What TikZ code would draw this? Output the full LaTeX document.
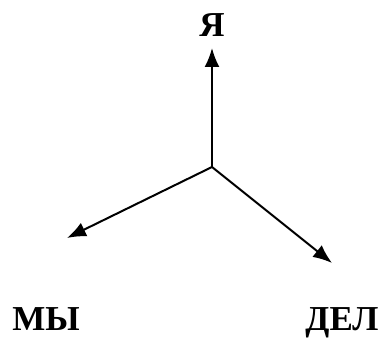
\documentclass[tikz,border=0pt]{standalone}
\usepackage{fontspec}
\setmainfont{Liberation Serif}
\usetikzlibrary{arrows.meta}
\tikzset{lbl/.style={inner sep=0pt, text depth=0pt, font=\fontsize{35}{35}\selectfont\bfseries},
  arr/.style={line width=2pt, -{Latex[length=19pt,width=15pt]}}}
\begin{document}
\begin{tikzpicture}[x=1pt,y=-1pt]
\useasboundingbox (0,0) rectangle (381,339);
\coordinate (c) at (212,167);
\coordinate (tup) at (212,48);
\coordinate (tleft) at (67,238);
\coordinate (tright) at (332,263);
\node[lbl, anchor=base] (ya) at (212,37){Я};
\node[lbl, anchor=base] (my) at (46,331){МЫ};
\node[lbl, anchor=base] (del) at (342,331){ДЕЛ};
\draw[arr](c) -- (tup);
\draw[arr](c) -- (tleft);
\draw[arr](c) -- (tright);
\end{tikzpicture}
\end{document}
